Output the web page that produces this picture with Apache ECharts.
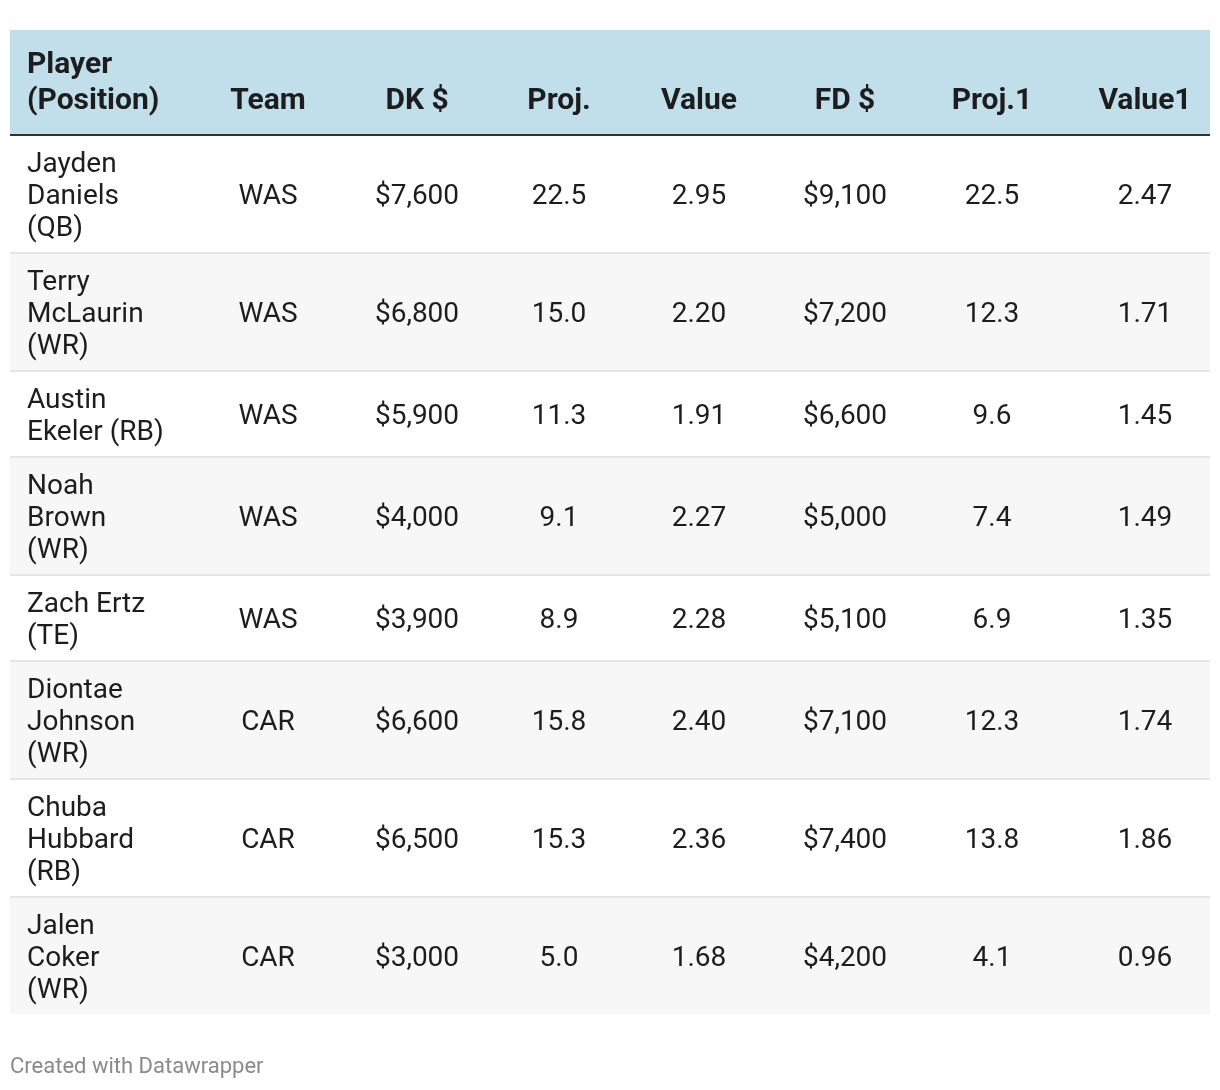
<!DOCTYPE html>
<html>
<head>
<meta charset="utf-8">
<style>
  html, body { margin: 0; padding: 0; background: #ffffff; }
  #main { width: 1220px; height: 1090px; }
</style>
<script src="https://cdn.jsdelivr.net/npm/echarts@6/dist/echarts.min.js"></script>
</head>
<body>
<div id="main"></div>
<script>
// ---------------- data ----------------
const columns   = ["Player (Position)", "Team", "DK $", "Proj.", "Value", "FD $", "Proj.1", "Value1"];
const players   = ["Jayden Daniels", "Terry McLaurin", "Austin Ekeler", "Noah Brown", "Zach Ertz", "Diontae Johnson", "Chuba Hubbard", "Jalen Coker"];
const positions = ["QB", "WR", "RB", "WR", "TE", "WR", "RB", "WR"];
const teams     = ["WAS", "WAS", "WAS", "WAS", "WAS", "CAR", "CAR", "CAR"];
const dkSalary  = [7600, 6800, 5900, 4000, 3900, 6600, 6500, 3000];
const dkProj    = [22.5, 15.0, 11.3, 9.1, 8.9, 15.8, 15.3, 5.0];
const dkValue   = [2.95, 2.20, 1.91, 2.27, 2.28, 2.40, 2.36, 1.68];
const fdSalary  = [9100, 7200, 6600, 5000, 5100, 7100, 7400, 4200];
const fdProj    = [22.5, 12.3, 9.6, 7.4, 6.9, 12.3, 13.8, 4.1];
const fdValue   = [2.47, 1.71, 1.45, 1.49, 1.35, 1.74, 1.86, 0.96];
const footerText = "Created with Datawrapper";

// ---------------- layout / style ----------------
const TABLE_W = 1200;
const COL_X = [17, 258, 407, 549, 689, 835, 982, 1135]; // first is left edge, rest centers
const PLAYER_WRAP = 139;
const BODY_FONT_SIZE = 28, BODY_LH = 32;
const HEAD_FONT_SIZE = 30, HEAD_LH = 36;
const FONT_FAMILY = 'Roboto';
const HEADER_H = 104, HEADER_LINE = 2, ROW_PAD = 10, SEP = 2;
const BODY_TEXT_SHIFT = 3, HEAD_TEXT_BOTTOM = 15;
const TEXT_COLOR = '#1d1d1d';
const HEADER_BG = '#c1deeb';
const STRIPE_BG = '#f7f7f7';
const SEP_COLOR = '#e6e6e6';

const fmtMoney = v => '$' + v.toLocaleString('en-US');
const fmt1 = v => v.toFixed(1);
const fmt2 = v => v.toFixed(2);

const measureCtx = document.createElement('canvas').getContext('2d');
function wrapText(text, font, maxW) {
  measureCtx.font = font;
  const words = text.split(' ');
  const lines = [];
  let cur = '';
  for (const w of words) {
    const t = cur ? cur + ' ' + w : w;
    if (!cur || measureCtx.measureText(t).width <= maxW) cur = t;
    else { lines.push(cur); cur = w; }
  }
  if (cur) lines.push(cur);
  return lines;
}
const bodyFont = `${BODY_FONT_SIZE}px ${FONT_FAMILY}`;
const headFont = `bold ${HEAD_FONT_SIZE}px ${FONT_FAMILY}`;

const headerLabels = columns.map((c, i) => i === 0 ? wrapText(c, headFont, PLAYER_WRAP) : [c]);
const playerLines = players.map((p, i) => wrapText(p + ' (' + positions[i] + ')', bodyFont, PLAYER_WRAP));

const rowCells = players.map((p, i) => [
  playerLines[i].join('\n'), teams[i], fmtMoney(dkSalary[i]), fmt1(dkProj[i]), fmt2(dkValue[i]),
  fmtMoney(fdSalary[i]), fmt1(fdProj[i]), fmt2(fdValue[i])
]);
const rowHeights = playerLines.map(l => l.length * BODY_LH + 2 * ROW_PAD);
const rowTops = [];
let yy = HEADER_H + HEADER_LINE;
rowHeights.forEach((h, i) => { rowTops.push(yy); yy += h + (i < rowHeights.length - 1 ? SEP : 0); });
const TOTAL_H = yy;

const GRID_TOP = 30, GRID_LEFT = 10;

function renderRow(params, api) {
  const idx = api.value(0);
  const children = [];
  const pt = (x, y) => api.coord([x, y]);
  if (idx < 0) {
    const a = pt(0, 0), b = pt(TABLE_W, HEADER_H), c = pt(TABLE_W, HEADER_H + HEADER_LINE);
    children.push({ type: 'rect', shape: { x: a[0], y: a[1], width: b[0] - a[0], height: b[1] - a[1] }, style: { fill: HEADER_BG } });
    children.push({ type: 'rect', shape: { x: a[0], y: b[1], width: b[0] - a[0], height: c[1] - b[1] }, style: { fill: '#333333' } });
    headerLabels.forEach((lines, ci) => {
      const p = pt(COL_X[ci], HEADER_H - HEAD_TEXT_BOTTOM);
      children.push({ type: 'text', x: p[0], y: p[1], style: {
        text: lines.join('\n'), font: headFont, fill: TEXT_COLOR, lineHeight: HEAD_LH,
        align: ci === 0 ? 'left' : 'center', verticalAlign: 'bottom' } });
    });
  } else {
    const top = rowTops[idx], h = rowHeights[idx];
    const a = pt(0, top), b = pt(TABLE_W, top + h);
    children.push({ type: 'rect', shape: { x: a[0], y: a[1], width: b[0] - a[0], height: b[1] - a[1] },
      style: { fill: idx % 2 === 1 ? STRIPE_BG : '#ffffff' } });
    if (idx < rowHeights.length - 1) {
      const s = pt(TABLE_W, top + h + SEP);
      children.push({ type: 'rect', shape: { x: a[0], y: b[1], width: b[0] - a[0], height: s[1] - b[1] }, style: { fill: SEP_COLOR } });
    }
    rowCells[idx].forEach((txt, ci) => {
      const p = pt(COL_X[ci], top + h / 2 + BODY_TEXT_SHIFT);
      children.push({ type: 'text', x: p[0], y: p[1], style: {
        text: txt, font: bodyFont, fill: TEXT_COLOR, lineHeight: BODY_LH,
        align: ci === 0 ? 'left' : 'center', verticalAlign: 'middle' } });
    });
  }
  return { type: 'group', children };
}

const chart = echarts.init(document.getElementById('main'), null, { renderer: 'canvas' });
chart.setOption({
  animation: false,
  backgroundColor: '#ffffff',
  title: {
    text: footerText, left: 10, top: 1056, padding: 0,
    textStyle: { fontFamily: FONT_FAMILY, fontSize: 22, fontWeight: 'normal', color: '#8a8a8a' }
  },
  grid: { left: GRID_LEFT, top: GRID_TOP, width: TABLE_W, height: TOTAL_H },
  xAxis: { type: 'value', min: 0, max: TABLE_W, show: false },
  yAxis: { type: 'value', min: 0, max: TOTAL_H, inverse: true, show: false },
  series: [{
    type: 'custom', silent: true, clip: false,
    renderItem: renderRow,
    data: [[-1]].concat(players.map((p, i) => [i])),
    encode: { x: -1, y: -1 }
  }]
});
</script>
</body>
</html>
